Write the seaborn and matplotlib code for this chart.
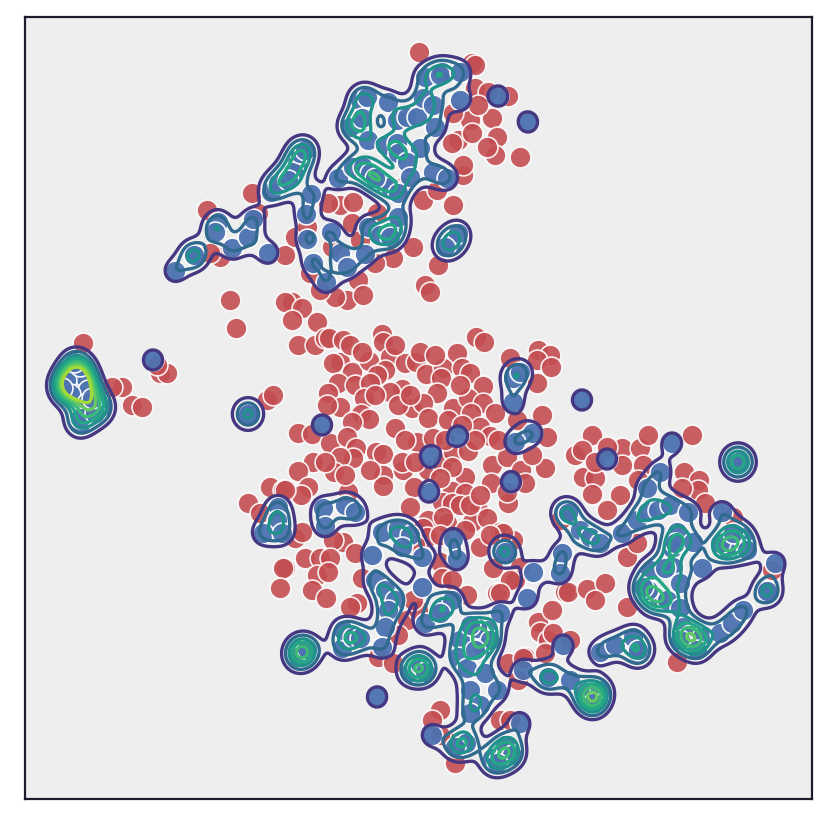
import matplotlib
matplotlib.use("Agg")
import matplotlib.pyplot as plt
import seaborn as sns
import numpy as np

blue_points = [
(175,271),(194,255),(194,255),(218,222),(215,232),(232,248),(248,237),(253,219),(268,253),(271,192),(278,183),
(297,163),(293,172),(300,153),(305,150),(288,180),(311,194),(306,214),(307,239),(313,263),(326,282),
(331,232),(340,253),(347,267),(365,254),(368,227),(380,235),(393,230),(398,217),(390,237),
(452,242),(458,233),(445,247),(338,178),(353,167),(360,100),(367,97),(358,125),(350,127),(368,140),
(362,118),(385,145),(397,143),(398,153),(420,148),(407,162),(388,102),(397,120),(407,117),(417,117),
(423,98),(433,105),(435,127),(425,77),(442,72),(440,75),(460,72),(460,100),(498,96),(528,122),
(363,167),(370,173),(382,182),(390,187),(410,177),(433,172),(447,178),(398,193),(375,178),
(77,384),(78,380),(74,386),(80,388),(72,378),(84,376),(66,380),(88,390),(70,394),(80,366),(62,388),(74,362),(87,403),(80,424),(80,418),(102,407),(95,413),(92,398),
(153,360),(248,414),(248,414),(322,425),(278,507),(277,520),(263,533),(282,533),
(323,508),(325,526),(345,505),(355,512),
(513,378),(520,372),(513,402),(532,433),(515,442),(458,436),(430,456),(429,492),(511,482),
(453,539),(457,559),(504,551),(382,532),(398,528),(410,535),(402,547),(372,555),(422,557),
(375,580),(385,590),(395,600),(388,610),(385,627),(382,647),(422,587),
(425,623),(442,608),(452,600),(440,613),
(342,648),(343,630),(353,637),(360,638),(303,653),(300,650),(298,657),(307,649),(377,697),
(410,672),(418,667),(420,664),(425,672),
(432,735),(487,630),(483,647),(477,628),(490,640),(460,640),(458,657),(467,668),(485,673),
(470,690),(480,705),(497,690),(470,713),(463,740),(466,743),(455,747),(500,613),(470,625),(475,650),
(492,758),(507,750),(505,745),(512,755),(520,723),(497,763),
(505,552),(533,572),(527,598),(562,553),(560,573),(565,513),
(523,670),(548,677),(548,677),(570,680),(593,697),(592,699),(585,692),(600,690),(593,703),
(568,513),(580,530),(590,537),(600,543),(622,533),(637,520),(647,512),(658,510),(670,505),(688,512),(660,472),(647,488),
(722,512),(563,645),(600,652),(615,645),(633,637),(638,653),(638,650),
(677,532),(672,548),(675,543),(650,570),(673,567),(693,542),(702,568),
(655,600),(657,598),(667,600),(680,608),(648,590),(680,583),(643,587),(665,568),
(683,627),(692,638),(690,635),(702,637),(680,640),(720,633),(732,623),(743,610),(697,650),
(728,550),(726,548),(720,543),(742,537),(733,533),(747,550),
(775,563),(767,591),(767,591),(738,462),(738,462),(738,462),(607,459),(672,443),(582,400),
]

red_points = [
(419,52),(472,63),(475,65),(475,88),(488,92),(508,96),(470,120),(492,118),(497,137),(495,155),(520,157),(458,140),(452,143),(472,133),
(463,175),(453,205),(423,200),(438,265),(425,285),(430,292),(230,300),(292,302),(285,302),(413,247),(393,258),(340,205),(328,203),(353,202),
(377,213),(352,223),(360,240),(285,255),(295,237),(252,193),(207,210),(258,213),(347,300),(358,280),(363,295),(335,297),(320,290),(375,263),
(310,273),(220,257),(210,253),(332,247),(307,227),(402,187),(453,113),(487,147),(437,190),(478,105),(463,165),
(236,328),(302,308),(292,320),(317,322),(298,345),(315,345),(325,338),(83,343),(122,387),(132,405),(142,407),(160,373),(167,373),(157,365),
(267,400),(273,395),(298,433),(312,434),(313,462),(298,471),(308,487),(301,495),(270,487),(248,503),(283,490),(295,538),(302,532),(260,513),(112,387),
(329,338),(343,340),(382,334),(383,342),(476,337),(484,342),(457,353),(510,358),(538,350),(550,355),(537,360),(551,367),(537,383),
(340,362),(333,363),(352,372),(369,361),(390,357),(385,370),(377,375),(405,363),(416,362),(426,374),(443,368),(462,368),(470,373),(441,378),(483,386),
(338,383),(328,393),(355,385),(370,383),(402,389),(390,392),(437,393),(412,408),(364,398),(340,407),(327,405),(423,403),(453,408),(468,398),(483,403),
(495,413),(471,413),(428,418),(361,414),(369,419),(352,422),(395,428),(448,420),(480,427),(490,436),(417,442),(433,438),(330,443),(347,437),(356,448),
(353,458),(340,457),(376,452),(383,454),(334,472),(325,462),(383,475),(383,486),(403,470),(402,462),(428,470),(442,463),(453,452),(468,451),(465,477),
(452,467),(492,465),(491,483),(507,457),(521,470),(545,468),(542,415),(517,420),(547,437),(532,455),(525,483),(508,503),(507,492),(414,487),(452,491),
(465,493),(442,502),(452,503),(410,507),(460,505),(478,510),(472,522),(487,518),(428,520),(500,532),(513,540),(480,547),(493,568),(520,567),(447,523),
(423,528),(285,490),(343,542),(333,540),(355,553),(305,558),(320,558),(330,558),(285,568),(317,575),(328,572),(348,492),(443,517),(427,537),
(283,568),(280,588),(312,590),(326,598),(362,578),(357,603),(350,607),(407,620),(398,635),(418,610),(413,600),(378,657),(393,663),(440,562),(442,578),
(452,580),(467,595),(497,593),(440,710),(432,720),(452,743),(455,763),(500,720),(508,663),(518,680),(538,622),(540,632),(552,610),(548,640),(525,657),
(565,592),(515,580),(560,520),(592,435),(575,455),(582,450),(583,477),(595,478),(592,494),(622,448),(607,447),(640,448),(648,435),(643,465),(622,465),
(595,462),(620,495),(607,510),(692,435),(684,472),(699,480),(698,490),(705,503),(682,488),(638,480),(503,533),(568,592),(587,589),(605,583),(595,600),
(553,633),(545,653),(570,640),(627,557),(627,607),(677,662),(523,658),(510,580),(500,593),(637,543),(733,517),(772,570),(440,735),(475,625),(510,720),
(350,345),(362,352),(395,345),(420,352),(435,355),(375,395),(398,405),(410,395),(460,385),(445,440),(462,425),(475,440),(405,440),(415,462),(470,505),
(440,478),(498,440),(480,495),(345,475),(370,470),(465,530),(440,535),(490,535),(415,545),
]

density_levels = [0.66, 1.20, 1.85, 2.50, 3.20, 3.90, 4.60]
level_shades = [0.16, 0.34, 0.50, 0.60, 0.68, 0.76, 0.86]

bx, by = map(np.array, zip(*blue_points))
rx, ry = map(np.array, zip(*red_points))

sns.set_theme(style="white")
fig, ax = plt.subplots(figsize=(8.3, 8.25), dpi=100)
fig.subplots_adjust(left=25/830, right=812/830, top=1-17/825, bottom=1-799/825)
ax.set_facecolor("#eeeeef")

sns.scatterplot(x=rx, y=ry, color="#c44e52", alpha=0.9, s=225, edgecolor="white", linewidth=1.2, ax=ax, zorder=2)
sns.scatterplot(x=bx, y=by, color="#4c72b0", alpha=0.95, s=225, edgecolor="white", linewidth=1.2, ax=ax, zorder=3)

# Product-kernel density of the blue group
gx = np.arange(25, 813, 1.5)
gy = np.arange(17, 800, 1.5)
hx, hy = 10.5, 11.0
kx = np.exp(-0.5 * ((gx[None, :] - bx[:, None]) / hx) ** 2)
ky = np.exp(-0.5 * ((gy[None, :] - by[:, None]) / hy) ** 2)
Z = ky.T @ kx
viridis = matplotlib.colormaps["viridis"]
ax.contour(gx, gy, Z, levels=density_levels, colors=[viridis(t) for t in level_shades],
           linewidths=2.4, zorder=4)

ax.set_xlim(25, 812)
ax.set_ylim(799, 17)
ax.set_xticks([]); ax.set_yticks([])
ax.set_xlabel(""); ax.set_ylabel("")
for s in ax.spines.values():
    s.set_color("#1c1c2c"); s.set_linewidth(1.6); s.set_visible(True)
fig.savefig("out.png", dpi=100)
